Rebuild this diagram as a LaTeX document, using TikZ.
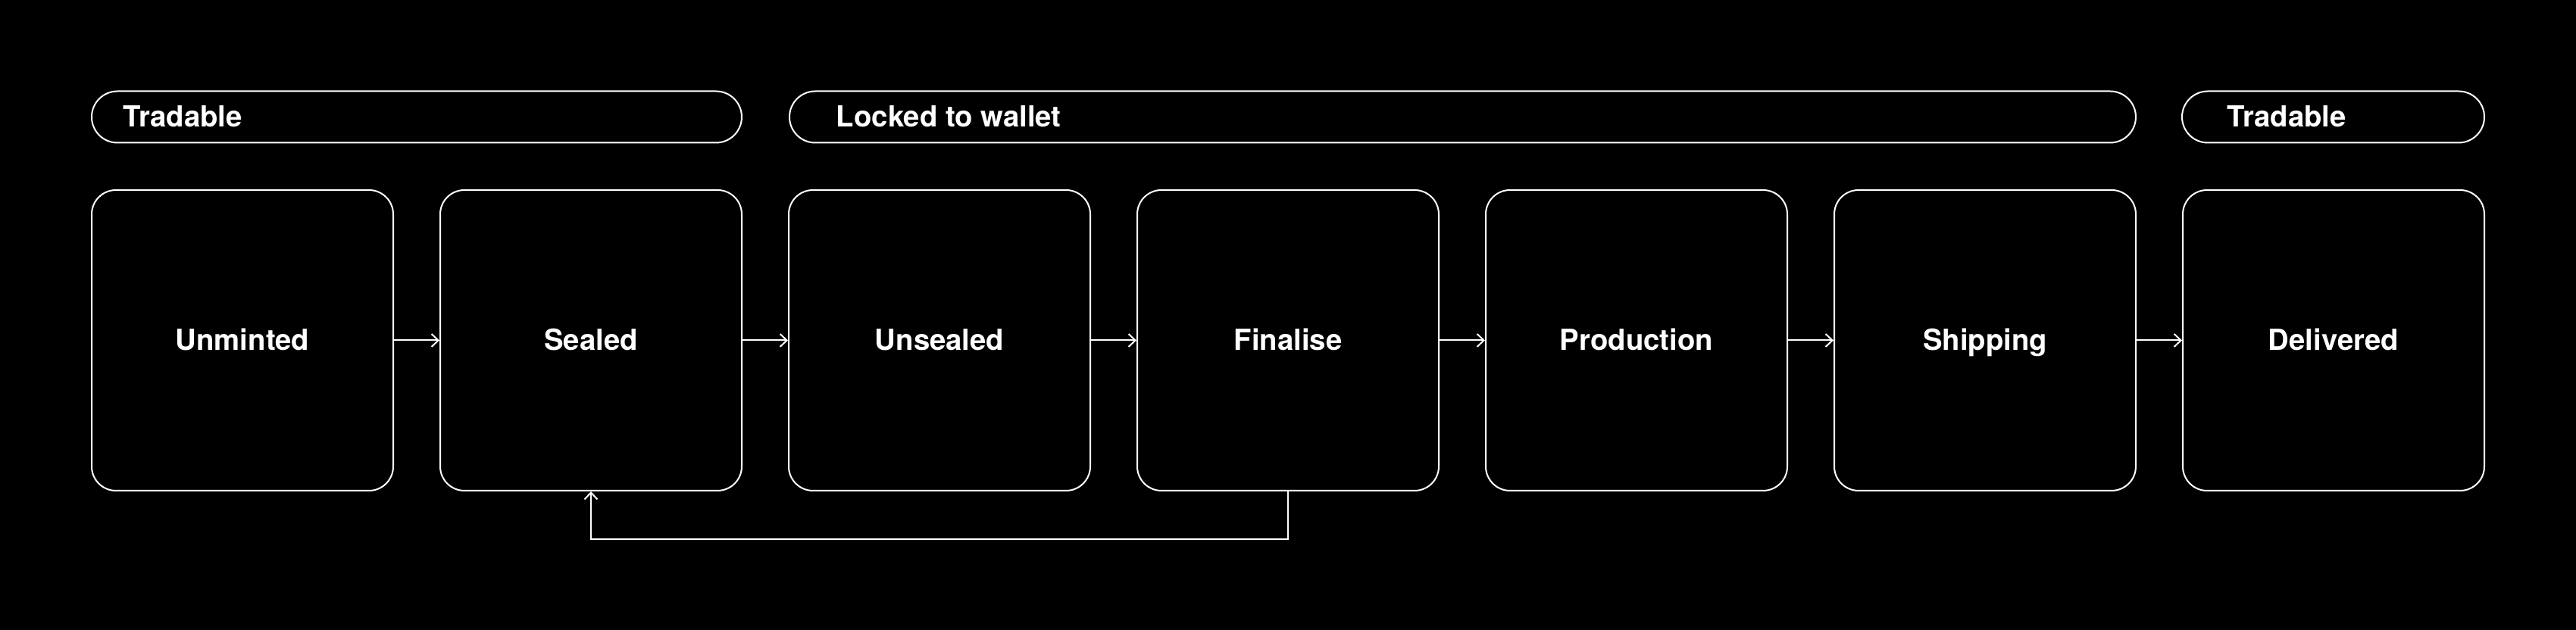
\documentclass[tikz,border=0pt]{standalone}
\usepackage{fontspec}
\setmainfont{TeX Gyre Heros}
\usepackage{tikz}
\usetikzlibrary{positioning,calc,arrows.meta}

\begin{document}
\begin{tikzpicture}[
            stage/.style={draw=white, line width=0.02cm, rounded corners=0.32cm, minimum width=3.98cm, minimum height=3.97cm, text=white, font=\fontsize{10.9}{13}\selectfont\bfseries, text height=0.72em, text depth=0pt},
            phase/.style={draw=white, line width=0.02cm, rounded corners=0.34cm, minimum height=0.68cm},
            phaselabel/.style={anchor=west, text=white, font=\fontsize{10.9}{13}\selectfont\bfseries, inner sep=0pt, text height=0.72em, text depth=0pt},
            flow/.style={->, draw=white, line width=0.02cm},
            >={Straight Barb[length=0.09cm,width=0.17cm]}
        ]
        
        % Background
        \fill[black] (0,0) rectangle (34,8.32);
        
        % Phase pills
        \node[phase, minimum width=8.58cm] (tradeA) at (5.50,6.775) {};
        \node[phaselabel] at ($(tradeA.west) + (0.42,0)$) {Tradable};
        
        \node[phase, minimum width=17.77cm] (locked) at (19.305,6.775) {};
        \node[phaselabel] at ($(locked.west) + (0.62,0)$) {Locked to wallet};
        
        \node[phase, minimum width=3.99cm] (tradeB) at (30.795,6.775) {};
        \node[phaselabel] at ($(tradeB.west) + (0.60,0)$) {Tradable};
        
        % Stages
        \node[stage] (unminted) at (3.20,3.825) {Unminted};
        \node[stage] (sealed) at (7.80,3.825) {Sealed};
        \node[stage] (unsealed) at (12.40,3.825) {Unsealed};
        \node[stage] (finalise) at (17.00,3.825) {Finalise};
        \node[stage] (production) at (21.60,3.825) {Production};
        \node[stage] (shipping) at (26.20,3.825) {Shipping};
        \node[stage] (delivered) at (30.80,3.825) {Delivered};
        
        % Arrows between stages
        \draw[flow] (unminted.east) -- (sealed.west);
        \draw[flow] (sealed.east) -- (unsealed.west);
        \draw[flow] (unsealed.east) -- (finalise.west);
        \draw[flow] (finalise.east) -- (production.west);
        \draw[flow] (production.east) -- (shipping.west);
        \draw[flow] (shipping.east) -- (delivered.west);
        
        % Loop back from finalise to sealed
        \draw[flow] (finalise.south) -- ++(0,-0.63) -| (sealed.south);
        
        \end{tikzpicture}
\end{document}
